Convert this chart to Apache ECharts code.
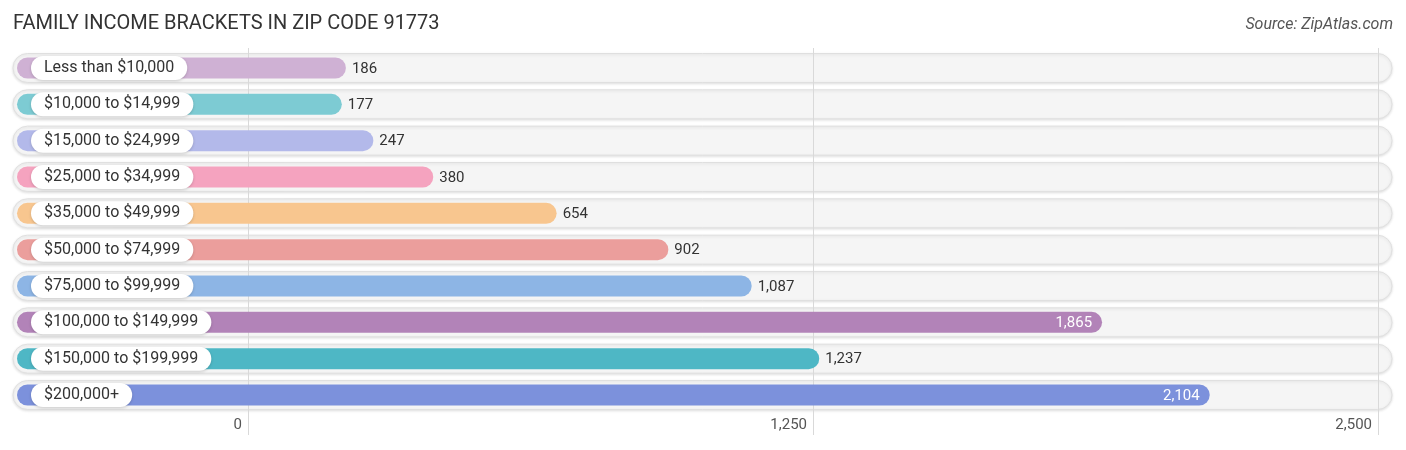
<!DOCTYPE html>
<html><head><meta charset="utf-8">
<script src="https://cdn.jsdelivr.net/npm/echarts@6/dist/echarts.min.js"></script>
<style>html,body{margin:0;padding:0;background:#fff}#c{width:1406px;height:450px}</style>
</head><body><div id="c"></div>
<script>
const categories = ["Less than $10,000","$10,000 to $14,999","$15,000 to $24,999","$25,000 to $34,999","$35,000 to $49,999","$50,000 to $74,999","$75,000 to $99,999","$100,000 to $149,999","$150,000 to $199,999","$200,000+"];
const values = [186,177,247,380,654,902,1087,1865,1237,2104];
const colors = ["#cfb1d4","#7dcbd3","#b3b9ea","#f5a3bf","#f8c68f","#eb9e9c","#8db5e5","#b283b8","#4eb7c5","#7c91dc"];
const tickValues = [0,1250,2500];

const fmt = v => v.toLocaleString('en-US');
const FONT = 'Roboto, "Noto Sans", sans-serif';

const chart = echarts.init(document.getElementById('c'), null, {renderer:'canvas'});

function trackItem(params, api){
  const cat = api.value(1);
  const yc = api.coord([0, cat])[1];
  const cs = params.coordSys;
  return {
    type:'rect',
    shape:{x:cs.x+1, y:yc-14.5, width:cs.width-1, height:29, r:14.5},
    style:{fill:'#f5f5f5', stroke:'#e0e0e0', lineWidth:1, shadowBlur:3, shadowOffsetY:1, shadowColor:'rgba(0,0,0,0.12)'}
  };
}

function barItem(params, api){
  const idx = params.dataIndex;
  const v = api.value(0);
  const cat = api.value(1);
  const pEnd = api.coord([v, cat]);
  const yc = pEnd[1];
  const cs = params.coordSys;
  const x0 = cs.x + 5;
  const inside = v > 1500;
  return {
    type:'group',
    children:[
      {type:'rect', shape:{x:x0, y:yc-10.5, width:pEnd[0]-x0, height:21, r:10.5},
       style:{fill:colors[idx]}},
      {type:'text', style:{text:categories[idx], x:cs.x+19, y:yc, align:'left', verticalAlign:'middle',
        font:'16px '+FONT, fill:'#333', backgroundColor:'#fff', padding:[4,13,4,13], lineHeight:16,
        borderRadius:12, shadowBlur:3, shadowOffsetY:1, shadowColor:'rgba(0,0,0,0.18)'}},
      {type:'text', style:{text:fmt(v), x: inside ? pEnd[0]-10 : pEnd[0]+6, y:yc+1,
        align: inside ? 'right' : 'left', verticalAlign:'middle', font:'15px '+FONT,
        fill: inside ? '#fff' : '#333'}}
    ]
  };
}

const data = values.map((v,i)=>[v,i]);

chart.setOption({
  animation:false,
  title:[
    {text:'FAMILY INCOME BRACKETS IN ZIP CODE 91773', left:8, top:9,
     textStyle:{fontSize:20, fontWeight:'normal', color:'#333', fontFamily:FONT}},
    {text:'Source: ZipAtlas.com', right:8, top:12,
     textStyle:{fontSize:16, fontWeight:'normal', fontStyle:'italic', color:'#555', fontFamily:FONT}}
  ],
  grid:[
    {left:12, right:14, top:49.8, bottom:36.8},
    {left:248, right:28, top:48, bottom:15}
  ],
  xAxis:[
    {gridIndex:0, type:'value', min:-555.3, max:2508.7, show:false},
    {gridIndex:1, type:'value', min:tickValues[0], max:tickValues[2], interval:tickValues[1]-tickValues[0],
     axisLine:{show:false}, axisTick:{show:false},
     splitLine:{show:true, lineStyle:{color:'#d9d9d9', width:1}},
     axisLabel:{inside:true, margin:2, align:'right', padding:[0,6,0,0], color:'#555', fontSize:15,
       fontFamily:FONT, formatter:v=>fmt(v)}}
  ],
  yAxis:[
    {gridIndex:0, type:'category', data:categories, inverse:true, show:false},
    {gridIndex:1, type:'value', show:false, min:0, max:1}
  ],
  series:[
    {type:'custom', xAxisIndex:0, yAxisIndex:0, z:-1, renderItem:trackItem, data:data, encode:{x:0,y:1}, silent:true},
    {type:'custom', xAxisIndex:0, yAxisIndex:0, z:3, renderItem:barItem, data:data, encode:{x:0,y:1}, silent:true}
  ]
});
</script></body></html>
